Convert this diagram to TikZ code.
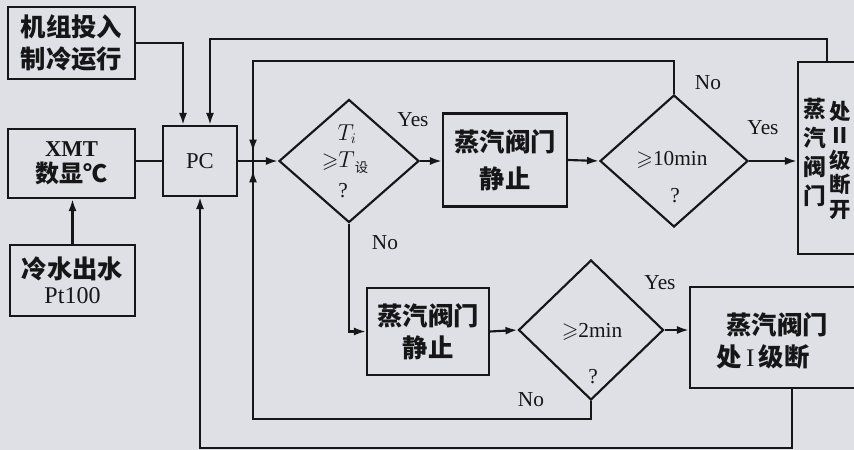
\documentclass[tikz,border=0pt]{standalone}
\usepackage{amssymb}
\usepackage{fontspec}
\setmainfont{Liberation Serif}
\newfontfamily\cjk{Noto Sans CJK SC}
\usetikzlibrary{arrows.meta,decorations.markings,shapes.geometric,calc}
\definecolor{bg}{RGB}{223,224,230}
\definecolor{ink}{RGB}{22,22,24}
\tikzset{
 box/.style={draw=ink, line width=1.6pt, rectangle, inner sep=0pt, align=center, text=ink},
 dia/.style={draw=ink, line width=1.6pt, diamond, inner sep=0pt, aspect=1},
 conn/.style={draw=ink, line width=1.6pt},
 arr/.style={conn, -{Latex[length=9pt,width=6pt]}},
 arrnear/.style={conn, postaction={decorate}, decoration={markings, mark=at position -7pt with {\arrow{Latex[length=9pt,width=6pt]}}}},
 zh/.style={font=\cjk\bfseries\fontsize{19}{24}\selectfont, text=ink, align=center},
 zhs/.style={font=\cjk\bfseries\fontsize{17}{21}\selectfont, text=ink, align=center},
 lat/.style={font=\fontsize{16}{19}\selectfont, text=ink, align=center},
}
\begin{document}
\begin{tikzpicture}[x=0.75pt,y=-0.75pt]
\useasboundingbox (0,0) rectangle (854,450);
\fill[bg] (0,0) rectangle (854,450);
\clip (0,0) rectangle (854,450);

% left boxes
\node[box, zh, minimum width=95.25pt, minimum height=54pt] (start) at (71.5,43) {机组投入\\制冷运行};
\node[box, minimum width=95.25pt, minimum height=51.75pt] (xmt) at (71.5,163.5)
  {\fontsize{17}{19}\selectfont\bfseries XMT\\[3pt]{\cjk\bfseries\fontsize{18}{24}\selectfont 数显℃}};
\node[box, minimum width=93.75pt, minimum height=53.25pt] (cold) at (72.5,280.5)
  {{\cjk\bfseries\fontsize{19}{24}\selectfont 冷水出水}\\[4pt]\fontsize{18}{19}\selectfont Pt100};
\node[box, font=\fontsize{17}{20}\selectfont, minimum width=55.5pt, minimum height=52.5pt] (pc) at (200,161) {PC};

% row 1
\node[dia, minimum width=105pt, minimum height=92.25pt] (d1) at (349,161) {};
\node[box, zh, minimum width=93pt, minimum height=69.75pt] (b1) at (505,160) {蒸汽阀门\\[4pt]静止};
\node[dia, minimum width=111pt, minimum height=99pt] (d2) at (674,161) {};
\node[box, minimum width=61.5pt, minimum height=144pt] (tall) at (839,158) {};
\node[zhs, font=\cjk\bfseries\fontsize{17}{21.75}\selectfont] (talla) at (815,152) {蒸\\汽\\阀\\门};
\node[zhs, font=\cjk\bfseries\fontsize{16}{18.4}\selectfont] (tallb) at (840,160) {处\\Ⅱ\\级\\断\\开};

% row 2
\node[box, zh, minimum width=91.5pt, minimum height=65.25pt] (b2) at (428,331.5) {蒸汽阀门\\静止};
\node[dia, minimum width=108.75pt, minimum height=105pt] (d3) at (591,330) {};
\node[box, minimum width=142.5pt, minimum height=75.75pt] (b3) at (785,337.5) {};
\node[zh] (b3a) at (777,325) {蒸汽阀门};
\node[zh] (b3b) at (763,357) {处\,{\rmfamily\mdseries I}\,级断};

% diamond texts
\node[lat] (d1a) at (347,134) {$T_i$};
\node[lat] (d1b) at (345,163) {$\geqslant$$T$\raisebox{-0.5ex}{\cjk\fontsize{10}{10}\selectfont 设}};
\node[lat] (d1c) at (343,191) {?};
\node[lat] (d2a) at (672,160) {$\geqslant$10min};
\node[lat] (d2b) at (675,196) {?};
\node[lat] (d3a) at (592,332) {$\geqslant$2min};
\node[lat] (d3b) at (593,377) {?};

% labels
\node[lat] (y1) at (413,120) {Yes};
\node[lat] (n1) at (385,243) {No};
\node[lat] (y2) at (763,128) {Yes};
\node[lat] (n2) at (708,83) {No};
\node[lat] (y3) at (660,283) {Yes};
\node[lat] (n3) at (531,400) {No};

% connectors
\coordinate (J) at (253,161);
\draw[arr] (start.east) -| ($(pc.north)+(-17,0)$);
\draw[arr] ($(tall.north west)+(30,0)$) -- ++(0,-22) -| ($(pc.north)+(10,0)$);
\draw[conn] (xmt.east |- pc.west) -- (pc.west);
\draw[arr] (cold.north) -- (cold.north |- xmt.south);
\draw[arr] (pc.east) -- (d1.west);
\draw[arrnear] (d2.north) -- ++(0,-33) -| (J);
\draw[arrnear] (d3.south) -- ++(0,18) -| (J);
\draw[arr] (d1.east) -- (d1.east -| b1.west);
\draw[arr] (b1.east) -- (d2.west);
\draw[arr] (d2.east) -- (d2.east -| tall.west);
\draw[arr] (d1.south) |- (b2.west);
\draw[arr] (b2.east) -- (d3.west);
\draw[arr] (d3.east) -- (d3.east -| b3.west);
\draw[arr] ($(b3.south west)+(103,0)$) -- ++(0,59) -| (pc.south);
\end{tikzpicture}
\end{document}
